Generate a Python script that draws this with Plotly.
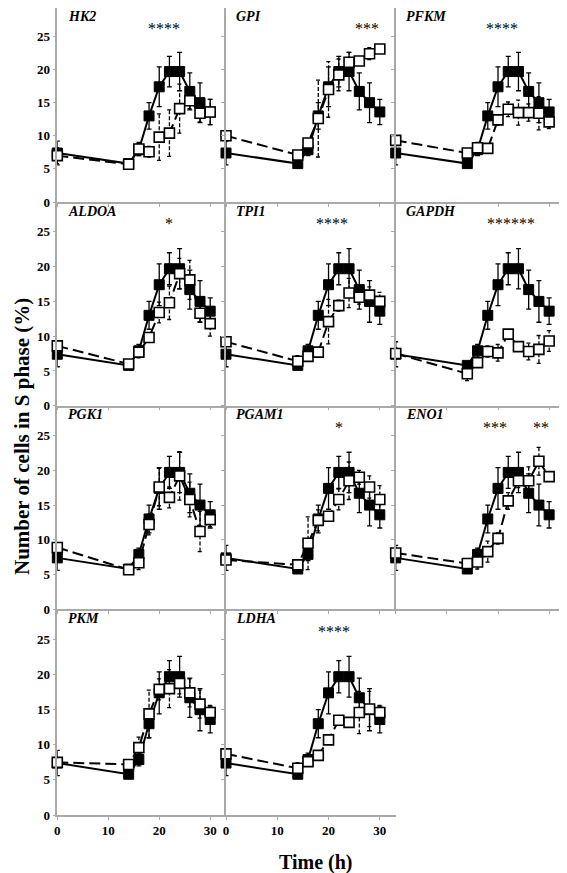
import plotly.graph_objects as go
from plotly.subplots import make_subplots

# ---------------- data ----------------
times = [0, 14, 16, 18, 20, 22, 24, 26, 28, 30]

control = [7.4, 5.8, 7.9, 13.0, 17.4, 19.7, 19.7, 16.7, 15.0, 13.6]
control_err = [1.8, 0.4, 0.9, 2.0, 3.0, 2.3, 2.9, 2.8, 3.0, 1.9]

genes = ["HK2", "GPI", "PFKM", "ALDOA", "TPI1", "GAPDH",
         "PGK1", "PGAM1", "ENO1", "PKM", "LDHA"]

HK2 = [7.0, 5.7, 8.0, 7.6, 9.8, 10.4, 14.1, 15.3, 13.4, 13.6]
HK2_err = [1.2, 0.4, 1.0, 0.8, 3.5, 3.5, 3.7, 1.2, 1.3, 1.9]
GPI = [10.0, 7.1, 8.9, 12.6, 17.0, 19.2, 21.1, 21.3, 22.4, 23.1]
GPI_err = [0.5, 0.5, 0.6, 5.8, 4.2, 2.4, 1.5, 0.4, 0.9, 0.4]
PFKM = [9.3, 7.4, 8.2, 8.1, 12.4, 14.0, 13.5, 13.5, 13.4, 12.1]
PFKM_err = [0.6, 0.4, 0.8, 0.5, 0.8, 1.1, 1.9, 1.3, 2.5, 1.0]
ALDOA = [8.6, 6.0, 7.7, 9.8, 13.4, 14.8, 19.0, 18.1, 13.3, 11.8]
ALDOA_err = [0.5, 0.4, 0.8, 0.6, 1.5, 2.4, 2.2, 2.8, 1.2, 1.8]
TPI1 = [9.2, 6.4, 7.1, 7.7, 12.1, 14.4, 16.2, 15.6, 15.9, 15.0]
TPI1_err = [0.4, 0.8, 0.5, 0.5, 3.2, 0.8, 2.1, 1.0, 1.2, 1.3]
GAPDH = [7.5, 4.6, 6.2, 7.8, 7.6, 10.3, 8.5, 7.8, 8.1, 9.3]
GAPDH_err = [0.8, 1.0, 0.5, 0.8, 1.2, 0.5, 0.6, 1.2, 2.0, 1.5]
PGK1 = [8.9, 5.7, 6.7, 12.2, 17.6, 16.1, 19.2, 15.8, 11.2, 12.9]
PGK1_err = [0.5, 0.5, 1.0, 1.5, 2.7, 1.5, 3.5, 2.5, 2.9, 1.0]
PGAM1 = [7.1, 6.4, 9.5, 12.8, 13.4, 15.8, 18.5, 19.0, 17.6, 15.8]
PGAM1_err = [0.5, 0.6, 3.8, 1.5, 0.6, 1.5, 2.7, 1.0, 1.6, 2.0]
ENO1 = [8.1, 6.6, 6.8, 8.3, 10.2, 15.6, 18.5, 18.5, 21.3, 19.1]
ENO1_err = [0.7, 0.4, 1.0, 1.5, 0.8, 1.2, 1.0, 2.0, 2.0, 0.7]
PKM = [7.5, 7.2, 9.6, 14.4, 17.9, 18.0, 18.75, 17.4, 15.8, 14.6]
PKM_err = [0.5, 0.4, 1.5, 3.4, 1.5, 2.7, 1.5, 2.0, 2.0, 1.0]
LDHA = [8.7, 6.65, 7.6, 8.5, 10.7, 13.5, 13.2, 14.6, 15.1, 14.6]
LDHA_err = [0.4, 0.8, 0.5, 0.5, 0.6, 0.5, 0.5, 3.0, 2.5, 1.0]

treated = [HK2, GPI, PFKM, ALDOA, TPI1, GAPDH, PGK1, PGAM1, ENO1, PKM, LDHA]
treated_err = [HK2_err, GPI_err, PFKM_err, ALDOA_err, TPI1_err, GAPDH_err,
               PGK1_err, PGAM1_err, ENO1_err, PKM_err, LDHA_err]

# significance marks: (gene index, x position, label)
stars = [(0, 21.0, "****"), (1, 27.5, "***"), (2, 20.8, "****"),
         (3, 22.0, "*"), (4, 20.7, "****"), (5, 22.5, "******"),
         (7, 22.0, "*"), (8, 19.5, "***"), (8, 28.4, "**"),
         (10, 21.0, "****")]

x_ticks = [0, 10, 20, 30]
x_labels = ["0", "10", "20", "30"]
y_ticks = [0, 5, 10, 15, 20, 25]
y_labels = ["0", "5", "10", "15", "20", "25"]

# ---------------- figure ----------------
OFF = 8  # page body margin
W, H = 567 - OFF, 873 - OFF
FONT = "Liberation Serif"
AXC = "#a9a9a9"

fig = make_subplots(rows=4, cols=3)

col_px = [(57.3, 226.0), (226.0, 395.7), (395.7, 565.0)]
row_px = [(0.0, 202.0), (202.0, 405.7), (405.7, 609.3), (609.3, 815.0)]

cap = 0.45
for k, gene in enumerate(genes):
    r, c = k // 3 + 1, k % 3 + 1
    fig.add_trace(go.Scatter(
        x=times, y=control, mode="lines+markers", cliponaxis=False,
        line=dict(color="black", width=2),
        marker=dict(symbol="square", size=10, color="black",
                    line=dict(color="black", width=1)),
        error_y=dict(type="data", array=control_err, color="black",
                     thickness=1.3, width=2.5),
        showlegend=False), row=r, col=c)
    ys, es = treated[k], treated_err[k]
    ex, ey = [], []
    for t, v, e in zip(times, ys, es):
        ex += [t, t, None, t - cap, t + cap, None, t - cap, t + cap, None]
        ey += [v - e, v + e, None, v + e, v + e, None, v - e, v - e, None]
    fig.add_trace(go.Scatter(
        x=ex, y=ey, mode="lines", cliponaxis=False,
        line=dict(color="black", width=1.3, dash="4px,2px"),
        showlegend=False, hoverinfo="skip"), row=r, col=c)
    fig.add_trace(go.Scatter(
        x=times, y=ys, mode="lines+markers", cliponaxis=False,
        line=dict(color="black", width=2, dash="11px,5px"),
        marker=dict(symbol="square", size=10, color="white",
                    line=dict(color="black", width=1.6)),
        showlegend=False), row=r, col=c)

for r in range(1, 5):
    for c in range(1, 4):
        idx = (r - 1) * 3 + c
        xs = "" if idx == 1 else str(idx)
        x0, x1 = col_px[c - 1]
        y0, y1 = row_px[r - 1]
        x0 -= OFF; x1 -= OFF; y0 -= OFF; y1 -= OFF
        fig.layout["xaxis" + xs].update(
            domain=[max(x0, 0) / W, min(x1, W) / W], range=[0, 33.1],
            tickvals=x_ticks, ticktext=["<b>" + s + "</b>" for s in x_labels],
            showticklabels=(r == 4),
            showline=True, linecolor=AXC, linewidth=1.5,
            ticks="outside", ticklen=3, tickcolor=AXC, tickwidth=1,
            showgrid=False, zeroline=False, automargin=False,
            tickfont=dict(family=FONT, size=13, color="black"))
        fig.layout["yaxis" + xs].update(
            domain=[max(0, 1 - y1 / H), min(1, 1 - y0 / H)], range=[0, 29.3],
            tickvals=y_ticks, ticktext=["<b>" + s + "</b>" for s in y_labels],
            showticklabels=(c == 1),
            showline=True, linecolor=AXC, linewidth=1.5,
            ticks="outside", ticklen=3, tickcolor=AXC, tickwidth=1,
            showgrid=False, zeroline=False, automargin=False,
            tickfont=dict(family=FONT, size=13, color="black"))

annotations = []
for k, gene in enumerate(genes):
    idx = k + 1
    xs = "" if idx == 1 else str(idx)
    annotations.append(dict(
        text="<b><i>" + gene + "</i></b>", xref="x" + xs + " domain",
        yref="y" + xs + " domain", x=0.05, y=0.955, xanchor="left",
        yanchor="middle", showarrow=False,
        font=dict(family=FONT, size=14, color="black")))
for k, xpos, lab in stars:
    idx = k + 1
    xs = "" if idx == 1 else str(idx)
    annotations.append(dict(
        text=lab, xref="x" + xs, yref="y" + xs, x=xpos, y=26.2,
        xanchor="center", yanchor="middle", showarrow=False,
        font=dict(family=FONT, size=16, color="black")))
annotations.append(dict(
    text="<b>Number of cells in S phase (%)</b>", xref="paper", yref="paper",
    x=0, y=1 - (437 - OFF) / H, textangle=-90, showarrow=False,
    xanchor="left", yanchor="middle",
    font=dict(family=FONT, size=21, color="black")))
annotations.append(dict(
    text="<b>Time (h)</b>", xref="paper", yref="paper",
    x=(316 - OFF) / W, y=1 - (862 - OFF) / H, showarrow=False,
    xanchor="center", yanchor="middle",
    font=dict(family=FONT, size=20, color="black")))

fig.update_layout(
    width=W, height=H, margin=dict(l=0, r=0, t=0, b=0),
    paper_bgcolor="white", plot_bgcolor="white",
    annotations=annotations, showlegend=False)

fig.write_html("out.html")
